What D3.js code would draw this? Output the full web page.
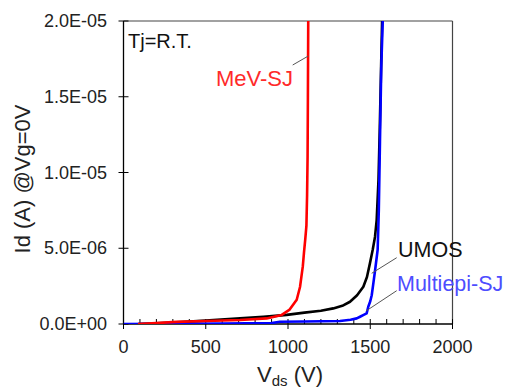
<!DOCTYPE html>
<html><head><meta charset="utf-8">
<script src="https://cdn.jsdelivr.net/npm/d3@7"></script>
<style>body{margin:0;background:#fff}svg{display:block}text{font-family:Arial,"Liberation Sans",sans-serif}</style>
</head><body><svg id="c" width="507" height="390"></svg>
<script>
// Data (Id in units of 1e-6 A)
const xTicks = [0, 500, 1000, 1500, 2000];
const yTicks = [0, 5e-6, 1e-5, 1.5e-5, 2e-5];
const yTickLabels = ["0.0E+00", "5.0E-06", "1.0E-05", "1.5E-05", "2.0E-05"];
const umosV = [90, 200, 323, 500, 708, 850, 992, 1100, 1200, 1275, 1330, 1377, 1420, 1458, 1480, 1498, 1515, 1529, 1539, 1550, 1558, 1566, 1572];
const umosI = [0, 0.05, 0.11, 0.22, 0.37, 0.47, 0.6, 0.75, 0.88, 1.03, 1.2, 1.47, 1.9, 2.46, 3.1, 4.0, 4.9, 5.76, 6.86, 9.5, 13, 17, 20];
const multiV = [0, 300, 600, 900, 951, 1100, 1316, 1380, 1418, 1438, 1460, 1478, 1488, 1500, 1509, 1519, 1530, 1545, 1552, 1559, 1567, 1576];
const multiI = [0, 0.01, 0.03, 0.06, 0.15, 0.17, 0.2, 0.28, 0.37, 0.48, 0.6, 0.7, 1.14, 1.5, 1.9, 2.7, 3.6, 4.9, 7.5, 12, 17, 20];
const mevV = [88, 200, 323, 500, 708, 870, 962, 1010, 1053, 1073, 1090, 1097, 1105, 1112, 1116, 1119, 1121, 1123];
const mevI = [0, 0.06, 0.14, 0.2, 0.26, 0.37, 0.6, 0.95, 1.6, 2.44, 3.8, 4.7, 5.6, 6.5, 8.5, 11, 15, 20];

const svg = d3.select("#c");
const x = d3.scaleLinear().domain([0, 2000]).range([123.5, 452.5]);
const y = d3.scaleLinear().domain([0, 2e-5]).range([324, 21]);

// clip
svg.append("clipPath").attr("id","clip").append("rect")
  .attr("x", x(0)).attr("y", y(2e-5)).attr("width", x(2000)-x(0)).attr("height", y(0)-y(2e-5));

// frame (top/right)
svg.append("line").attr("x1", x(0)).attr("x2", x(2000)).attr("y1", y(2e-5)).attr("y2", y(2e-5)).attr("stroke","#444").attr("stroke-width",1.2);
svg.append("line").attr("x1", x(2000)).attr("x2", x(2000)).attr("y1", y(2e-5)).attr("y2", y(0)).attr("stroke","#444").attr("stroke-width",1.2);

// x axis
const gx = svg.append("g");
gx.append("line").attr("x1", x(0)).attr("x2", x(2000)).attr("y1", y(0)).attr("y2", y(0)).attr("stroke","#000").attr("stroke-width",1.3);
const minor = d3.range(0, 2001, 100).filter(v => v % 500 !== 0);
gx.selectAll(".mn").data(minor).join("line")
  .attr("x1", d => x(d)).attr("x2", d => x(d)).attr("y1", y(0)).attr("y2", y(0) - 5)
  .attr("stroke","#000").attr("stroke-width",1);
gx.selectAll(".mj").data(xTicks).join("line")
  .attr("x1", d => x(d)).attr("x2", d => x(d)).attr("y1", y(0) - 5).attr("y2", y(0) + 5)
  .attr("stroke","#000").attr("stroke-width",1);
gx.selectAll(".xl").data(xTicks).join("text")
  .attr("x", d => x(d)).attr("y", 353).attr("text-anchor","middle")
  .attr("font-size", 18).attr("fill","#222").text(d => d);

// y axis
const gy = svg.append("g");
gy.append("line").attr("x1", x(0)).attr("x2", x(0)).attr("y1", y(0)).attr("y2", y(2e-5)).attr("stroke","#000").attr("stroke-width",1.3);
gy.selectAll(".yt").data(yTicks).join("line")
  .attr("x1", x(0) - 5).attr("x2", x(0) + 5).attr("y1", d => y(d)).attr("y2", d => y(d))
  .attr("stroke","#000").attr("stroke-width",1);
gy.selectAll(".yl").data(yTicks).join("text")
  .attr("x", 107).attr("y", d => y(d) + 6).attr("text-anchor","end")
  .attr("font-size", 18).attr("fill","#222").text((d,i) => yTickLabels[i]);

// axis titles
const xt = svg.append("text").attr("x", 290).attr("y", 382).attr("text-anchor","middle").attr("font-size", 22).attr("fill","#222");
xt.append("tspan").text("V");
xt.append("tspan").attr("font-size", 15).attr("dy", 4).text("ds");
xt.append("tspan").attr("dy", -4).text(" (V)");
svg.append("text").attr("transform","translate(30,179) rotate(-90)").attr("text-anchor","middle")
  .attr("font-size", 22).attr("fill","#222").text("Id (A) @Vg=0V");

// curves
const line = d3.line().x(d => x(d[0])).y(d => y(d[1] * 1e-6));
const plot = svg.append("g").attr("clip-path","url(#clip)");
const series = [
  {v: umosV, i: umosI, c: "#000"},
  {v: multiV, i: multiI, c: "#0000ff"},
  {v: mevV, i: mevI, c: "#ff0000"}
];
series.forEach(s => {
  plot.append("path").datum(s.v.map((v, k) => [v, s.i[k]]))
    .attr("d", line).attr("fill","none").attr("stroke", s.c).attr("stroke-width", 2.6).attr("stroke-linejoin","round");
});

// leader lines
const leaders = [[292.7, 65, 308.3, 56], [396.7, 257.7, 371.7, 273.3], [396.7, 290.7, 366, 311]];
leaders.forEach(l => svg.append("line").attr("x1", l[0]).attr("y1", l[1]).attr("x2", l[2]).attr("y2", l[3]).attr("stroke","#555").attr("stroke-width",1));

// labels
svg.append("text").attr("x", 128).attr("y", 48).attr("font-size", 20).attr("fill","#111").text("Tj=R.T.");
svg.append("text").attr("x", 216).attr("y", 86).attr("font-size", 22).attr("fill","#ff2a2a").text("MeV-SJ");
svg.append("text").attr("x", 398).attr("y", 257).attr("font-size", 21.5).attr("fill","#111").text("UMOS");
svg.append("text").attr("x", 397).attr("y", 291).attr("font-size", 21.5).attr("fill","#4d4dff").text("Multiepi-SJ");
</script></body></html>
